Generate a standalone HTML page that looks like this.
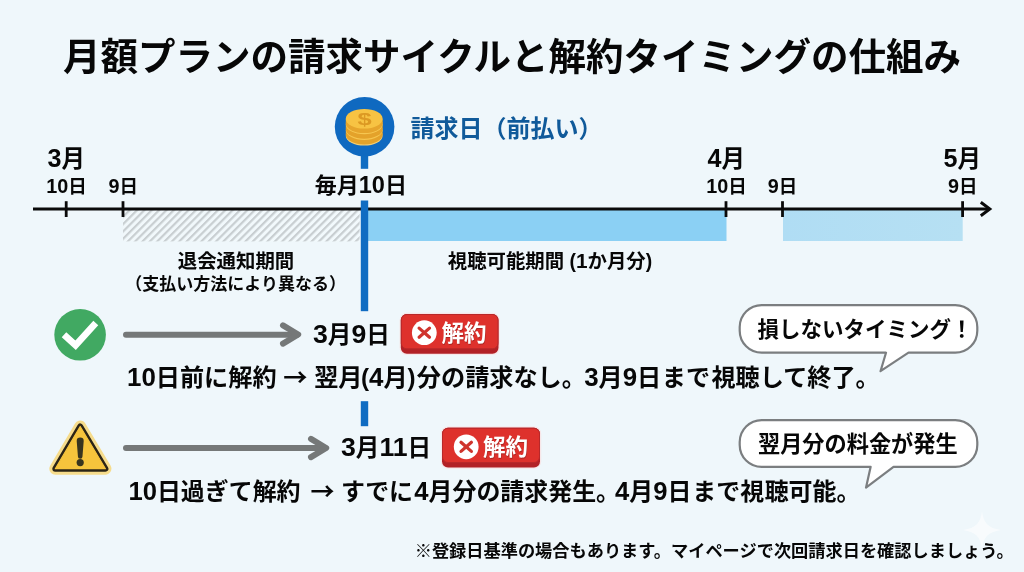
<!DOCTYPE html>
<html lang="ja">
<head>
<meta charset="utf-8">
<title>月額プランの請求サイクルと解約タイミングの仕組み</title>
<style>
  html, body { margin: 0; padding: 0; background: #eff7fb; }
  body { width: 1024px; height: 572px; overflow: hidden; background: #eff7fb; }
  svg { display: block; will-change: transform; opacity: 0.999; }
  text { font-family: "Liberation Sans", "Noto Sans CJK JP", sans-serif; font-weight: 700; fill: #070707; }
  .t-title { font-size: 37.5px; }
  .t-month { font-size: 23.5px; }
  .t-day { font-size: 18.5px; }
  .t-every { font-size: 22px; }
  .t-bill { font-size: 24px; fill: #105a9a; }
  .t-note { font-size: 19.4px; }
  .t-note2 { font-size: 17px; }
  .t-date { font-size: 23.6px; }
  .t-date .d { font-size: 1.13em; }
  .t-row { font-size: 24px; }
  .t-pill { font-size: 22.5px; fill: #fff; }
  .t-bub { font-size: 21.5px; }
  .d { font-size: 1.07em; }
  .arr { font-family: "Noto Sans CJK JP", sans-serif; }
  .t-foot { font-size: 17.22px; }
</style>
</head>
<body>
<svg width="1024" height="572" viewBox="0 0 1024 572">
  <defs>
    <pattern id="hatch" patternUnits="userSpaceOnUse" width="5.2" height="5.2" patternTransform="rotate(45)">
      <rect x="0" y="0" width="2.2" height="5.2" fill="#c8ced1"/>
    </pattern>
    <linearGradient id="band2" x1="0" x2="1" y1="0" y2="0">
      <stop offset="0" stop-color="#b0ddf4"/>
      <stop offset="1" stop-color="#b6e0f3"/>
    </linearGradient>
  </defs>

  <!-- background -->
  <rect x="0" y="0" width="1024" height="572" fill="#eff7fb"/>

  <!-- title -->
  <text class="t-title" x="62.9" y="70.2">月額プランの請求サイクルと解約タイミングの仕組み</text>

  <!-- timeline bands -->
  <rect x="123" y="210" width="236.6" height="31.4" fill="#f2f9fc"/>
  <rect x="123" y="210" width="236.6" height="31.4" fill="url(#hatch)"/>
  <rect x="366" y="210" width="360.5" height="31" fill="#8bd0f4"/>
  <rect x="783" y="210" width="179.7" height="31" fill="url(#band2)"/>

  <!-- axis -->
  <line x1="33" y1="209.1" x2="989" y2="209.1" stroke="#0a0a0a" stroke-width="3"/>
  <polyline points="980.8,202.3 989.8,209 980.8,215.7" fill="none" stroke="#0a0a0a" stroke-width="3" stroke-linejoin="miter"/>
  <g stroke="#0a0a0a" stroke-width="2.8">
    <line x1="66.2" y1="201.2" x2="66.2" y2="217"/>
    <line x1="123" y1="201.2" x2="123" y2="217"/>
    <line x1="726" y1="201.2" x2="726" y2="217"/>
    <line x1="782.5" y1="201.2" x2="782.5" y2="217"/>
    <line x1="962.6" y1="201.2" x2="962.6" y2="217"/>
  </g>

  <!-- timeline labels -->
  <text class="t-month" x="66.3" y="167.4" text-anchor="middle"><tspan class="d">3</tspan>月</text>
  <text class="t-day" x="66.6" y="192.5" text-anchor="middle"><tspan class="d">10</tspan>日</text>
  <text class="t-day" x="123.2" y="192.5" text-anchor="middle"><tspan class="d">9</tspan>日</text>
  <text class="t-month" x="726.2" y="167.4" text-anchor="middle"><tspan class="d">4</tspan>月</text>
  <text class="t-day" x="726.6" y="192.5" text-anchor="middle"><tspan class="d">10</tspan>日</text>
  <text class="t-day" x="782.6" y="192.5" text-anchor="middle"><tspan class="d">9</tspan>日</text>
  <text class="t-month" x="962.2" y="167.4" text-anchor="middle"><tspan class="d">5</tspan>月</text>
  <text class="t-day" x="962.8" y="192.5" text-anchor="middle"><tspan class="d">9</tspan>日</text>

  <!-- billing pin + vertical line -->
  <g fill="#106cc2">
    <rect x="360.8" y="150" width="7.4" height="18.8"/>
    <rect x="360.8" y="200.5" width="7.4" height="110.7"/>
    <rect x="360.8" y="401.2" width="7.4" height="25"/>
  </g>
  <circle cx="364.6" cy="126.8" r="29.8" fill="#0f69c0"/>
  <!-- coin stack -->
  <g>
    <ellipse cx="364.2" cy="135.7" rx="18.4" ry="9.8" fill="#f2cd72"/>
    <ellipse cx="364.2" cy="134.6" rx="18.4" ry="9.8" fill="#e4a22a"/>
    <rect x="345.8" y="130.1" width="36.8" height="4.5" fill="#e4a22a"/>
    <ellipse cx="364.2" cy="130.1" rx="18.4" ry="9.8" fill="#f6c650"/>
    <ellipse cx="364.2" cy="128.9" rx="18.4" ry="9.8" fill="#e4a22a"/>
    <rect x="345.8" y="124.4" width="36.8" height="4.5" fill="#e4a22a"/>
    <ellipse cx="364.2" cy="124.4" rx="18.4" ry="9.8" fill="#f6c650"/>
    <ellipse cx="364.2" cy="123.2" rx="18.4" ry="9.8" fill="#e6a52c"/>
    <rect x="345.8" y="118.7" width="36.8" height="4.5" fill="#e6a52c"/>
    <ellipse cx="364.2" cy="118.7" rx="18.4" ry="9.8" fill="#f7c343"/>
    <text x="364.6" y="0" transform="translate(0,124.6) scale(1,0.64)" text-anchor="middle" style="font-size:25.5px; fill:#dc9923;">$</text>
  </g>
  <text class="t-bill" x="410.5" y="137.1">請求日（前払い）</text>
  <text class="t-every" x="360.8" y="193.3" text-anchor="middle">毎月<tspan class="d">10</tspan>日</text>

  <!-- period labels -->
  <text class="t-note" x="236" y="267.6" text-anchor="middle">退会通知期間</text>
  <text class="t-note2" x="235.7" y="290" text-anchor="middle">（支払い方法により異なる）</text>
  <text class="t-note" x="550" y="267.6" text-anchor="middle">視聴可能期間 (<tspan class="d">1</tspan>か月分)</text>

  <!-- row 1 -->
  <circle cx="80.1" cy="334.8" r="25.8" fill="#41a962"/>
  <polyline points="64,334.7 75.6,345.2 95.8,323.1" fill="none" stroke="#fff" stroke-width="6.7"/>
  <g fill="none" stroke="#757878" stroke-width="6" stroke-linecap="round" stroke-linejoin="round">
    <line x1="126" y1="334.7" x2="297" y2="334.7"/>
    <polyline points="283,325.4 298.2,334.5 283,343.6"/>
  </g>
  <text class="t-date" x="313" y="342.6"><tspan class="d">3</tspan>月<tspan class="d">9</tspan>日</text>

  <!-- pill 1 -->
  <g id="pill1">
    <rect x="399.6" y="312.8" width="100.1" height="42.2" rx="7.2" fill="#f8e3e4" opacity="0.85"/>
    <rect x="400.8" y="314" width="97.7" height="39.8" rx="6" fill="#b22126"/>
    <rect x="401.3" y="314.5" width="96.7" height="34.3" rx="5.5" fill="#de312c" stroke="#b8282a" stroke-width="1"/>
    <circle cx="424.3" cy="332.7" r="12.4" fill="#fff"/>
    <g stroke="#cf342d" stroke-width="3.2" stroke-linecap="round">
      <line x1="419.1" y1="328.1" x2="429.5" y2="337.3"/>
      <line x1="429.5" y1="328.1" x2="419.1" y2="337.3"/>
    </g>
    <text class="t-pill" x="442" y="341.7" style="fill:#a92623">解約</text>
    <text class="t-pill" x="441.5" y="341">解約</text>
  </g>
  <text class="t-row" x="127" y="386" style="font-size:24.17px"><tspan class="d">10</tspan>日前に解約 <tspan class="arr">→</tspan> 翌月<tspan dx="-1.5">(</tspan><tspan class="d">4</tspan>月)<tspan dx="1.2">分</tspan>の請求なし。<tspan class="d" dx="-1.8">3</tspan>月<tspan class="d">9</tspan>日<tspan dx="0.6">ま</tspan>で<tspan dx="1.2">視</tspan>聴して終了。</text>

  <!-- bubble 1 -->
  <path d="M761.7,305.1 H955.3 a22,22 0 0 1 22,22 v3.6 a22,22 0 0 1 -22,22 H908.5 L880.5,371.2 L886,352.7 H761.7 a22,22 0 0 1 -22,-22 v-3.6 a22,22 0 0 1 22,-22 Z" fill="#fff" stroke="#7b7e80" stroke-width="2.2" stroke-linejoin="round"/>
  <text class="t-bub" x="757.5" y="336.5">損しないタイミング！</text>

  <!-- row 2 -->
  <g id="warn">
    <path d="M80.2,426.5 L105.4,468.7 H55.3 Z" fill="#f6dc8c" stroke="#f6dc8c" stroke-width="12" stroke-linejoin="round"/>
    <path d="M80.2,426.5 L105.4,468.7 H55.3 Z" fill="#2b2416" stroke="#2b2416" stroke-width="6" stroke-linejoin="round"/>
    <path d="M80.2,426.5 L105.4,468.7 H55.3 Z" fill="#f6c43c" stroke="#f6c43c" stroke-width="1.2" stroke-linejoin="round"/>
    <path d="M76.7,440.9 a3.5,3.3 0 0 1 7,0 l-1.25,15.8 a2.25,2.1 0 0 1 -4.5,0 Z" fill="#37341f"/>
    <circle cx="80.2" cy="462.6" r="3.6" fill="#37341f"/>
  </g>
  <g fill="none" stroke="#757878" stroke-width="6" stroke-linecap="round" stroke-linejoin="round">
    <line x1="126" y1="448" x2="325" y2="448"/>
    <polyline points="311,438.9 326.2,448 311,457.1"/>
  </g>
  <text class="t-date" x="341" y="456"><tspan class="d">3</tspan>月<tspan class="d">11</tspan>日</text>

  <!-- pill 2 -->
  <g id="pill2">
    <rect x="440.8" y="426.5" width="100.4" height="42.2" rx="7.2" fill="#f8e3e4" opacity="0.85"/>
    <rect x="442" y="427.7" width="98" height="39.8" rx="6" fill="#b22126"/>
    <rect x="442.5" y="428.2" width="97" height="34.3" rx="5.5" fill="#de312c" stroke="#b8282a" stroke-width="1"/>
    <circle cx="466.2" cy="446.8" r="12.4" fill="#fff"/>
    <g stroke="#cf342d" stroke-width="3.2" stroke-linecap="round">
      <line x1="461" y1="442.2" x2="471.4" y2="451.4"/>
      <line x1="471.4" y1="442.2" x2="461" y2="451.4"/>
    </g>
    <text class="t-pill" x="483.5" y="455.7" style="fill:#a92623">解約</text>
    <text class="t-pill" x="483" y="455">解約</text>
  </g>
  <text class="t-row" x="128.4" y="500.4" style="font-size:23.94px"><tspan class="d">10</tspan>日過ぎて解約 <tspan class="arr" dx="3.2">→</tspan> すでに<tspan class="d" dx="1.3">4</tspan>月分の請求発生。<tspan class="d" dx="-5">4</tspan>月<tspan class="d">9</tspan>日<tspan dx="0.9">ま</tspan>で視<tspan dx="0.5">聴</tspan>可能。</text>

  <!-- bubble 2 -->
  <path d="M761.7,420.1 H955.3 a22,22 0 0 1 22,22 v2.8 a22,22 0 0 1 -22,22 H893.5 L866,487.7 L870.6,466.9 H761.7 a22,22 0 0 1 -22,-22 v-2.8 a22,22 0 0 1 22,-22 Z" fill="#fff" stroke="#7b7e80" stroke-width="2.2" stroke-linejoin="round"/>
  <text style="font-size:22.2px" x="758" y="451.8">翌月分の料金が発生</text>

  <!-- footnote -->
  <text class="t-foot" x="414.7" y="557">※登録日基準の場合もあります。マイページで次回請求日を確認しましょう。</text>

  <!-- sparkle watermark -->
  <path d="M982,511 C983.5,523 988,528 1001,530 C988,532 983.5,537 982,549 C980.5,537 976,532 963,530 C976,528 980.5,523 982,511 Z" fill="#fff" opacity="0.55"/>
</svg>
</body>
</html>
